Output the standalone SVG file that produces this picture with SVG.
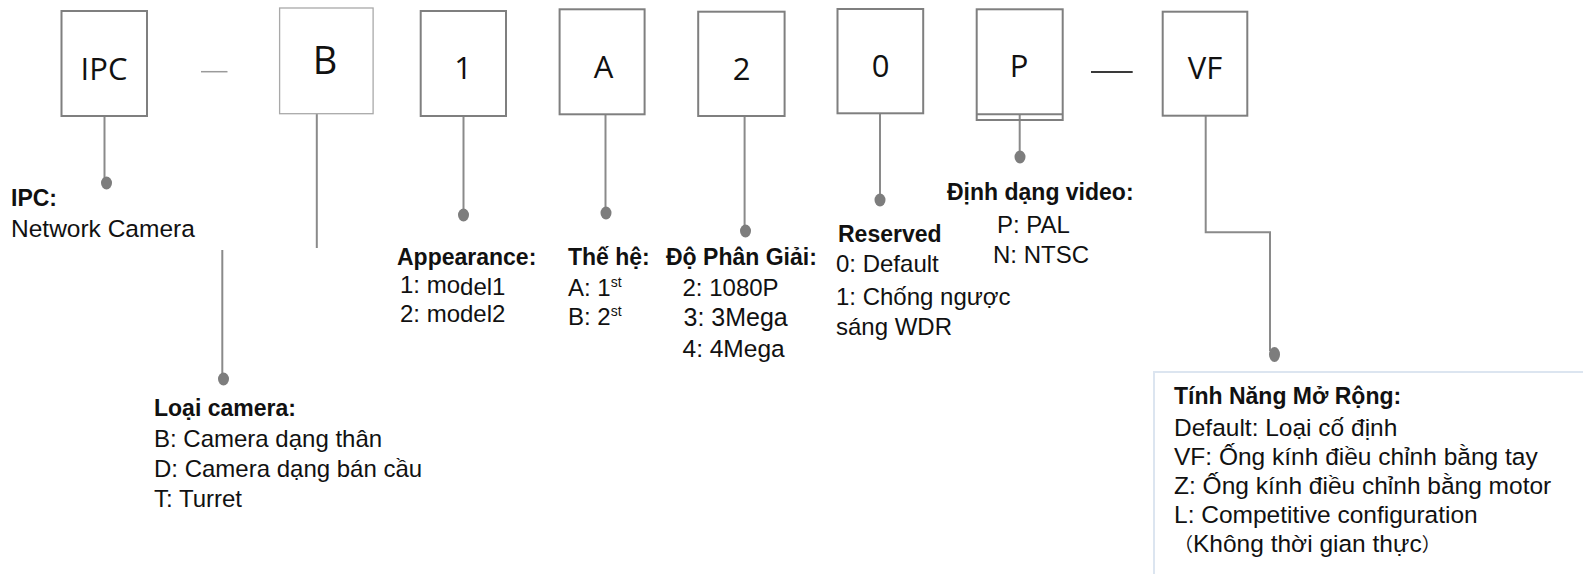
<svg xmlns="http://www.w3.org/2000/svg" width="1583" height="574" viewBox="0 0 1583 574">
<style>
.bg{fill:#ffffff}
.box{fill:none;stroke:#7f7f7f;stroke-width:2}
.boxl{fill:none;stroke:#a9a9a9;stroke-width:1.3}
.code{font-family:"Open Sans","Noto Sans",sans-serif;font-weight:400;font-size:31px;fill:#111;text-anchor:middle}
.codeb{font-family:"Open Sans","Noto Sans",sans-serif;font-weight:400;font-size:38px;fill:#111;text-anchor:middle}
.con{fill:none;stroke:#8a8a8a;stroke-width:2}
.dot{fill:#7d7d7d}
.t{font-family:"Liberation Sans","Noto Sans CJK SC",sans-serif;font-size:24px;fill:#111}
.ti{font-size:24.5px}
.h{font-family:"Liberation Sans",sans-serif;font-size:23px;font-weight:700;fill:#111}
.sup{font-size:14px}
.fw{font-size:19px}
.info{fill:none;stroke:#dce5f0;stroke-width:2}
</style>
<rect class="bg" x="0" y="0" width="1583" height="574"/>

<g id="connectors">
  <line class="con" x1="201" y1="71.7" x2="227.5" y2="71.7" style="stroke:#9a9a9a;stroke-width:1.5"/>
  <line class="con" x1="1091" y1="72" x2="1132.7" y2="72" style="stroke:#3a3a3a;stroke-width:2"/>
  <line class="con" x1="104.5" y1="116" x2="104.5" y2="181"/>
  <ellipse class="dot" cx="106.5" cy="183" rx="5.5" ry="6.5"/>
  <line class="con" x1="316.8" y1="114" x2="316.8" y2="248"/>
  <line class="con" x1="222.3" y1="250" x2="222.3" y2="377"/>
  <ellipse class="dot" cx="223.5" cy="379" rx="5.5" ry="6.5"/>
  <line class="con" x1="463.5" y1="116" x2="463.5" y2="213"/>
  <ellipse class="dot" cx="463.5" cy="215" rx="5.5" ry="6.5"/>
  <line class="con" x1="605.5" y1="114.3" x2="605.5" y2="211"/>
  <ellipse class="dot" cx="606" cy="213" rx="5.5" ry="6.5"/>
  <line class="con" x1="744.6" y1="116" x2="744.6" y2="229"/>
  <ellipse class="dot" cx="745.5" cy="231" rx="5.5" ry="6.5"/>
  <line class="con" x1="880" y1="113.3" x2="880" y2="198"/>
  <ellipse class="dot" cx="880" cy="200" rx="5.5" ry="6.5"/>
  <line class="con" x1="1019.7" y1="114.3" x2="1019.7" y2="155"/>
  <ellipse class="dot" cx="1020" cy="157" rx="5.5" ry="6.5"/>
  <polyline class="con" points="1205.7,115.7 1205.7,232.3 1270,232.3 1270,351"/>
  <ellipse class="dot" cx="1274.5" cy="354.5" rx="5.5" ry="7.5"/>
</g>

<g id="node-ipc">
  <rect class="box" x="61.5" y="11" width="85.5" height="105"/>
  <text class="code" x="104" y="80">IPC</text>
</g>
<g id="node-b">
  <rect class="boxl" x="279.6" y="8" width="93.5" height="105.7"/>
  <text class="codeb" x="325" y="74">B</text>
</g>
<g id="node-1">
  <rect class="box" x="420.7" y="11" width="85.3" height="105"/>
  <text class="code" x="463" y="79">1</text>
</g>
<g id="node-a">
  <rect class="box" x="559.6" y="9.3" width="85" height="105"/>
  <text class="code" x="603.5" y="77.5">A</text>
</g>
<g id="node-2">
  <rect class="box" x="698.2" y="11.7" width="86.4" height="104.3"/>
  <text class="code" x="741.5" y="79.5">2</text>
</g>
<g id="node-0">
  <rect class="box" x="837.5" y="9" width="85.7" height="104.3"/>
  <text class="code" x="880.5" y="77">0</text>
</g>
<g id="node-p">
  <rect class="box" x="976.7" y="9.3" width="86" height="110.7"/>
  <line class="box" x1="976.7" y1="114.3" x2="1062.7" y2="114.3"/>
  <text class="code" x="1019" y="77">P</text>
</g>
<g id="node-vf">
  <rect class="box" x="1162.7" y="11.7" width="84.6" height="104"/>
  <text class="code" x="1205" y="79">VF</text>
</g>

<g id="label-ipc">
  <text class="h" x="11" y="206">IPC:</text>
  <text class="t ti" x="11" y="237">Network Camera</text>
</g>
<g id="label-loai">
  <text class="h" x="154" y="416">Loại camera:</text>
  <text class="t" x="154" y="446.5">B: Camera dạng thân</text>
  <text class="t" x="154" y="477">D: Camera dạng bán cầu</text>
  <text class="t" x="154" y="507">T: Turret</text>
</g>
<g id="label-appearance">
  <text class="h" x="397" y="265">Appearance:</text>
  <text class="t" x="400" y="292.5">1: mo<tspan dy="2">del1</tspan></text>
  <text class="t" x="400" y="322">2: model2</text>
</g>
<g id="label-thehe">
  <text class="h" x="568" y="265">Thế hệ:</text>
  <text class="t" x="568" y="296">A: 1<tspan class="sup" dy="-9">st</tspan></text>
  <text class="t" x="568" y="325">B: 2<tspan class="sup" dy="-9">st</tspan></text>
</g>
<g id="label-dophangiai">
  <text class="h" x="666" y="265">Độ Phân Giải:</text>
  <text class="t" x="682.5" y="296">2: 1080P</text>
  <text class="t" x="683.5" y="326" style="font-size:25px">3: 3Mega</text>
  <text class="t" x="682.5" y="356.5" style="font-size:24.5px">4: 4Mega</text>
</g>
<g id="label-reserved">
  <text class="h" x="838" y="242">Reserved</text>
  <text class="t" x="836" y="272">0: Default</text>
  <text class="t" x="836" y="305">1: Chống ngược</text>
  <text class="t" x="836" y="335">sáng WDR</text>
</g>
<g id="label-video">
  <text class="h" x="947" y="200">Định dạng video:</text>
  <text class="t" x="997" y="233">P: PAL</text>
  <text class="t" x="993" y="263">N: NTSC</text>
</g>
<g id="label-tinhnang">
  <path class="info" d="M1154,580 V372 H1590"/>
  <text class="h" x="1174" y="404">Tính Năng Mở Rộng:</text>
  <text class="t ti" x="1174" y="436">Default: Loại cố định</text>
  <text class="t ti" x="1174" y="464.5">VF: Ống kính điều chỉnh bằng tay</text>
  <text class="t ti" x="1174" y="493.5">Z: Ống kính điều chỉnh bằng motor</text>
  <text class="t ti" x="1174" y="523">L: Competitive configuration</text>
  <text class="t ti" x="1174" y="552"><tspan class="fw">（</tspan>Không thời gian thực<tspan class="fw">）</tspan></text>
</g>
</svg>
